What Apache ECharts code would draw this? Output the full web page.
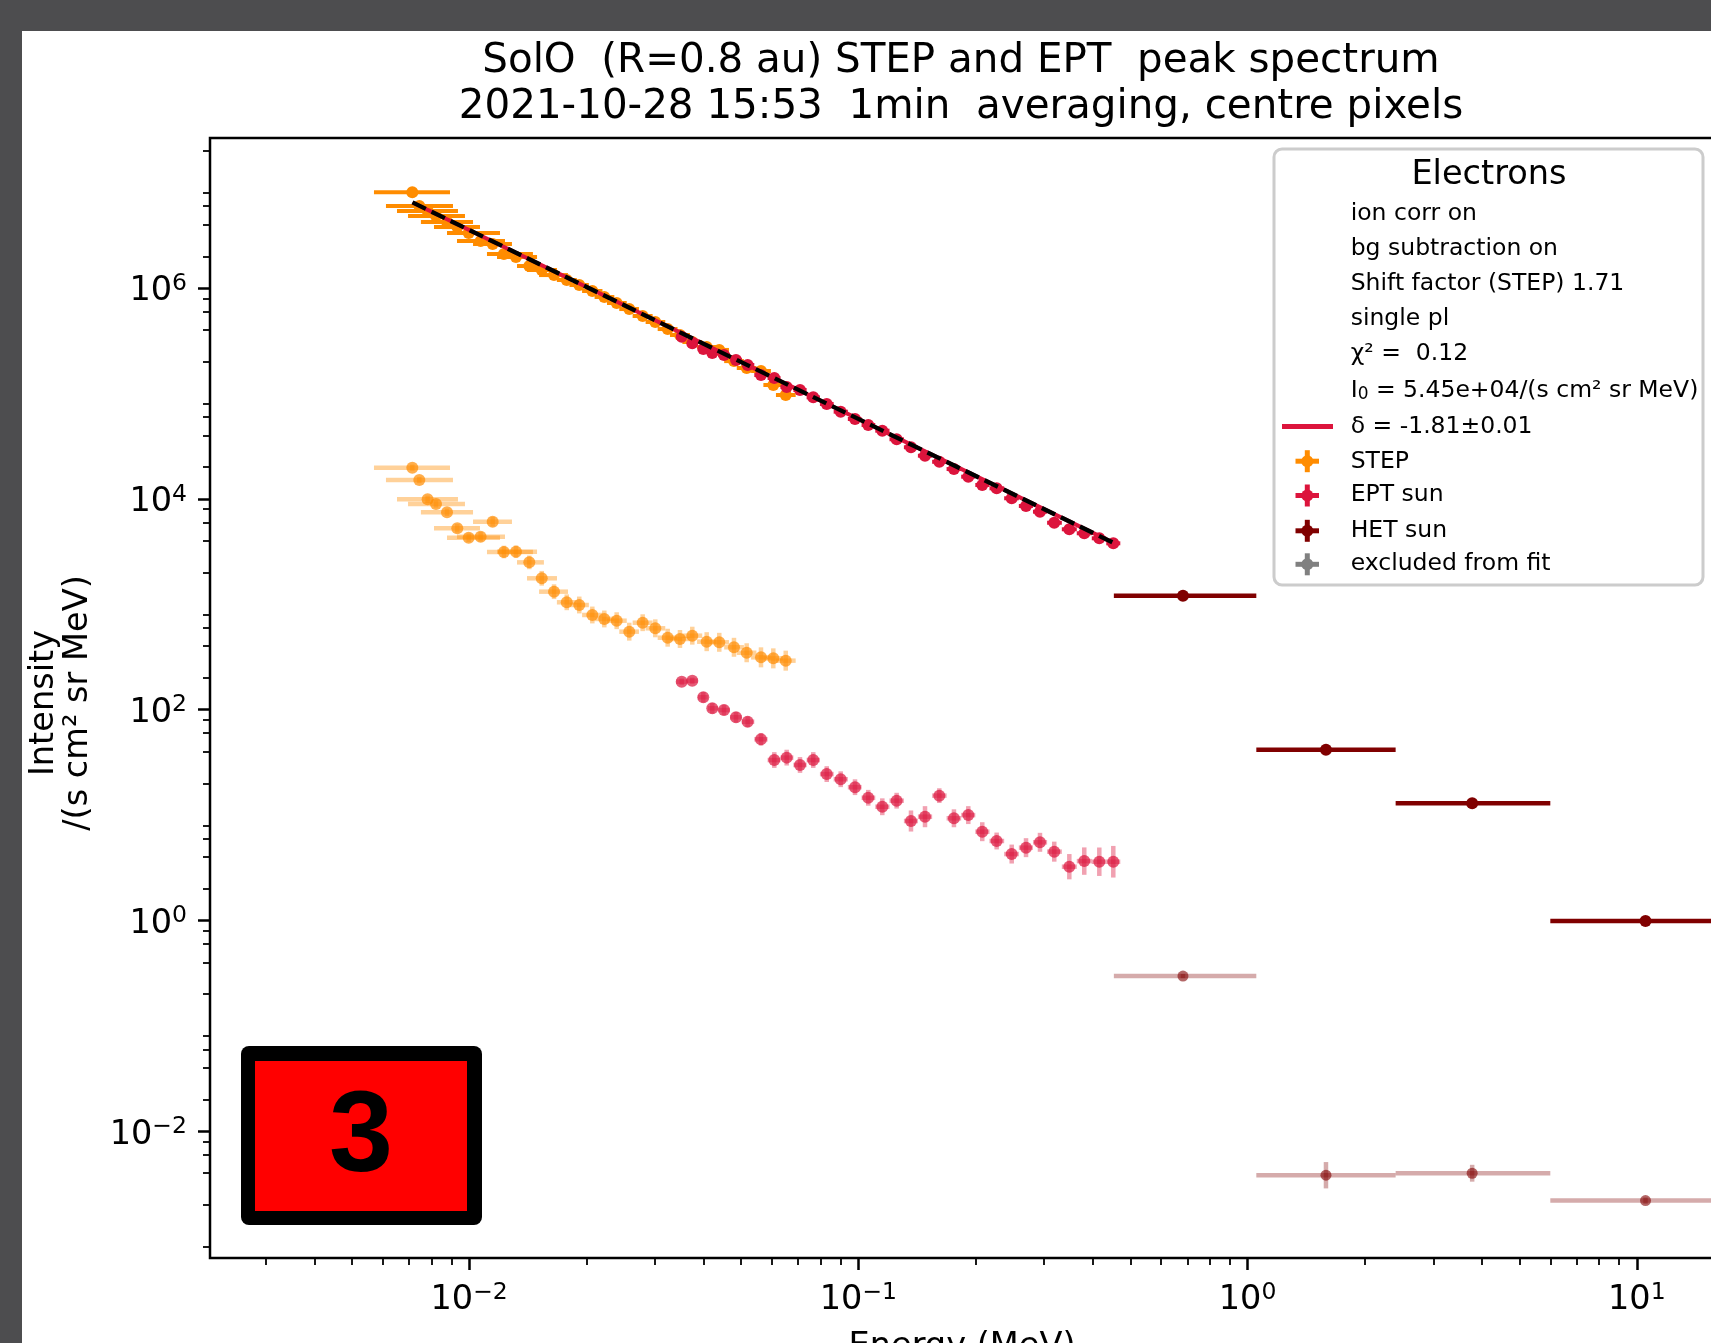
<!DOCTYPE html>
<html><head><meta charset="utf-8">
<script src="https://cdn.jsdelivr.net/npm/echarts@6/dist/echarts.min.js"></script>
<style>html,body{margin:0;padding:0;overflow:hidden;background:#4d4d4f;}#c{width:1720px;height:1343px;}</style>
</head><body><div id="c"></div>
<script>
// ---------------- data ----------------
const stepE   = [0.007143,0.007444,0.007820,0.008218,0.008770,0.009320,0.009970,0.01070,0.01149,0.01228,0.01319,0.01427,0.01536,0.01652,0.01781,0.01918,0.02072,0.02224,0.02393,0.02578,0.02791,0.03007,0.03236,0.03480,0.03743,0.04076,0.04391,0.04790,0.05164,0.05620,0.06045,0.06506];
const stepElo = [0.005693,0.006112,0.006524,0.006964,0.007516,0.008121,0.008770,0.009304,0.01023,0.01111,0.01179,0.01327,0.01408,0.01512,0.0168,0.0181,0.0195,0.0210,0.0226,0.0243,0.0263,0.0284,0.0305,0.0328,0.0353,0.0385,0.0414,0.0452,0.0487,0.0530,0.0570,0.0614];
const stepEhi = [0.008927,0.009086,0.009359,0.009754,0.01023,0.01066,0.01200,0.01236,0.01288,0.01458,0.01494,0.01556,0.01681,0.01794,0.0189,0.0203,0.0220,0.0236,0.0254,0.0273,0.0296,0.0319,0.0343,0.0369,0.0397,0.0432,0.0465,0.0508,0.0547,0.0596,0.0641,0.0690];
const stepI   = [8.11e6,6.01e6,5.39e6,4.83e6,4.24e6,3.80e6,3.33e6,2.80e6,2.62e6,2.11e6,1.97e6,1.62e6,1.485e6,1.33e6,1.194e6,1.07e6,9.39e5,8.23e5,7.22e5,6.33e5,5.44e5,4.77e5,4.09e5,3.59e5,3.08e5,2.76e5,2.59e5,2.03e5,1.746e5,1.635e5,1.204e5,9.68e4];
const stepBgI = [19770,15110,9910,8950,7460,5260,4285,4380,6080,3135,3155,2500,1765,1318,1045,985,792,726,699,550,669,592,482,469,504,442,436,391,347,314,307,292];
const stepBgErrDex = [0.03,0.03,0.035,0.035,0.035,0.04,0.04,0.045,0.045,0.06,0.06,0.065,0.07,0.07,0.075,0.08,0.08,0.08,0.08,0.085,0.08,0.085,0.085,0.085,0.085,0.09,0.09,0.09,0.09,0.095,0.095,0.095];

const eptE     = [0.03516,0.03743,0.03995,0.04213,0.04515,0.04848,0.05194,0.05620,0.06080,0.06543,0.07079,0.07656,0.08292,0.09006,0.09802,0.1060,0.1152,0.1254,0.1365,0.1483,0.1614,0.1760,0.1916,0.2081,0.2266,0.2477,0.2696,0.2928,0.3186,0.3483,0.3805,0.4159,0.4518];
const eptEdges = [0.03404,0.03627,0.03867,0.04102,0.04361,0.04678,0.05017,0.05402,0.05844,0.06307,0.06808,0.07362,0.07965,0.08639,0.09395,0.1019,0.1105,0.1202,0.1309,0.1422,0.1547,0.1685,0.1837,0.1997,0.2172,0.2369,0.2584,0.2809,0.3054,0.3332,0.3640,0.3978,0.4334,0.4709];
const eptI     = [3.46e5,2.99e5,2.645e5,2.42e5,2.32e5,2.08e5,1.864e5,1.498e5,1.403e5,1.153e5,1.08e5,9.20e4,7.95e4,6.72e4,5.73e4,5.03e4,4.44e4,3.68e4,3.09e4,2.57e4,2.25e4,1.92e4,1.625e4,1.356e4,1.26e4,1.014e4,8.57e3,7.56e3,5.94e3,5.15e3,4.72e3,4.23e3,3.79e3];
const eptBgI   = [184.5,188.4,131.2,103.1,99.3,84.7,76.9,52.4,33.3,35.1,29.9,33.3,24.5,21.9,18.4,14.6,12.0,13.7,8.79,9.66,15.3,9.33,10.0,6.96,5.68,4.27,4.91,5.52,4.50,3.24,3.66,3.61,3.61];
const eptBgErrDex = [0.03,0.03,0.05,0.05,0.05,0.05,0.05,0.06,0.075,0.075,0.075,0.075,0.075,0.075,0.075,0.075,0.08,0.075,0.10,0.10,0.07,0.085,0.085,0.09,0.08,0.09,0.09,0.09,0.095,0.12,0.13,0.135,0.15];

const hetE   = [0.6823,1.590,3.776,10.53];
const hetElo = [0.4533,1.053,2.401,5.995];
const hetEhi = [1.053,2.401,5.995,18.83];
const hetI   = [1205,41.7,12.97,0.989];
const hetBgI = [0.297,0.00383,0.00400,0.00220];
const hetBgErrDex = [0.02,0.125,0.08,0.03];

const fitE = [0.00715,0.451];
const fitI = [6.5e6,3.85e3];

const xTickValues = [0.01,0.1,1,10];
const xTickExp    = ['−2','−1','0','1'];
const yTickValues = [0.01,1,100,1e4,1e6];
const yTickExp    = ['−2','0','2','4','6'];

const legendLines = ['ion corr on','bg subtraction on','Shift factor (STEP) 1.71','single pl','χ² =  0.12','{n|I}{sub|0}{n| = 5.45e+04/(s cm² sr MeV)}','δ = -1.81±0.01','STEP','EPT sun','HET sun','excluded from fit'];

// ---------------- setup ----------------
const F = 'DejaVu Sans';
const XMIN = 0.002158, XMAX = 15.79, YMIN = 6.279e-4, YMAX = 2.656e7;
const C_STEP = '#ff8c00', C_EPT = '#dc143c', C_HET = '#800000', C_EXC = '#808080';
const DARK = '#4d4d4f';

const xMinor = [], yMinor = [];
[-3,-2,-1,0].forEach(k => { for (let m = 2; m <= 9; m++) { const v = m * Math.pow(10, k); if (v > XMIN && v < XMAX) xMinor.push(v); } });
for (let k = -4; k <= 7; k++) [2,4,6,8].forEach(m => { const v = m * Math.pow(10, k); if (v > YMIN && v < YMAX) yMinor.push(v); });

function rows(E, I, lo, hi, dex) {
  return E.map((e, k) => {
    const d = dex ? dex[k] : 0;
    return [e, I[k], lo[k], hi[k], I[k] / Math.pow(10, d), I[k] * Math.pow(10, d)];
  });
}
const stepMain = rows(stepE, stepI, stepElo, stepEhi, null);
const stepBg   = rows(stepE, stepBgI, stepElo, stepEhi, stepBgErrDex);
const eptLo = eptE.map((e, k) => eptEdges[k]), eptHi = eptE.map((e, k) => eptEdges[k + 1]);
const eptMain = rows(eptE, eptI, eptLo, eptHi, null);
const eptBg   = rows(eptE, eptBgI, eptLo, eptHi, eptBgErrDex);
const hetMain = rows(hetE, hetI, hetElo, hetEhi, null);
const hetBg   = rows(hetE, hetBgI, hetElo, hetEhi, hetBgErrDex);

function errSeries(name, data, color, width, opacity) {
  return {
    type: 'custom', name, data, clip: true, silent: true,
    dimensions: ['e','i','elo','ehi','ilo','ihi'], encode: {x: 0, y: 1},
    renderItem: function (params, api) {
      const e = api.value(0), i = api.value(1), elo = api.value(2), ehi = api.value(3), ilo = api.value(4), ihi = api.value(5);
      const a = api.coord([elo, i]), b = api.coord([ehi, i]), c = api.coord([e, ilo]), d = api.coord([e, ihi]);
      const st = {stroke: color, lineWidth: width, opacity: opacity, lineCap: 'butt'};
      const ch = [{type: 'line', shape: {x1: a[0], y1: a[1], x2: b[0], y2: b[1]}, style: st}];
      if (Math.abs(c[1] - d[1]) > 0.5) ch.push({type: 'line', shape: {x1: c[0], y1: c[1], x2: d[0], y2: d[1]}, style: st});
      return {type: 'group', children: ch};
    }
  };
}
function dots(name, data, color, opacity, size) {
  return {type: 'scatter', name, data: data.map(r => [r[0], r[1]]), symbol: 'circle', symbolSize: size,
    itemStyle: {color: color, opacity: opacity}, silent: true, clip: true};
}

const rich = {
  b: {fontFamily: F, fontSize: 33.5, color: '#000', lineHeight: 40},
  s: {fontFamily: F, fontSize: 23.5, color: '#000', lineHeight: 28, verticalAlign: 'top'}
};
function fmt(vals, exps) {
  return function (v) {
    const i = vals.findIndex(t => Math.abs(Math.log10(t) - Math.log10(v)) < 1e-6);
    return i < 0 ? '' : '{b|10}{s|' + exps[i] + '}';
  };
}
const tickStyle = {color: '#000', width: 2.5};
const minorStyle = {color: '#000', width: 1.8};

// ---------------- graphics: frame, legend, badge ----------------
const G = [];
G.push({type: 'rect', z: 100, shape: {x: 0, y: 0, width: 1720, height: 31}, style: {fill: DARK}});
G.push({type: 'rect', z: 100, shape: {x: 0, y: 0, width: 22, height: 1343}, style: {fill: DARK}});
// legend box
G.push({type: 'rect', z: 100, shape: {x: 1274, y: 149, width: 429, height: 436, r: 8}, style: {fill: 'rgba(255,255,255,0.8)', stroke: '#cccccc', lineWidth: 3}});
G.push({type: 'text', z: 101, x: 1489, y: 175.5, style: {text: 'Electrons', fontFamily: F, fontSize: 33.6, fill: '#000', align: 'center', verticalAlign: 'middle'}});
const rowY = [214,249,284,318.5,354,390.8,426.8,461.9,495.1,531.2,564];
const legRich = {n: {fontFamily: F, fontSize: 23.5, fill: '#000'}, sub: {fontFamily: F, fontSize: 17, fill: '#000', verticalAlign: 'bottom', lineHeight: 20}};
legendLines.forEach((t, k) => {
  G.push({type: 'text', z: 101, x: 1350.7, y: rowY[k], style: {text: t, fontFamily: F, fontSize: 23.5, fill: '#000', align: 'left', verticalAlign: 'middle', rich: legRich}});
});
G.push({type: 'line', z: 101, shape: {x1: 1282, y1: 426.5, x2: 1333, y2: 426.5}, style: {stroke: C_EPT, lineWidth: 5}});
[[C_STEP, 461.2], [C_EPT, 495.5], [C_HET, 530.8], [C_EXC, 564.3]].forEach(([col, y]) => {
  G.push({type: 'line', z: 101, shape: {x1: 1295.5, y1: y, x2: 1319, y2: y}, style: {stroke: col, lineWidth: 5}});
  G.push({type: 'line', z: 101, shape: {x1: 1307.3, y1: y - 11, x2: 1307.3, y2: y + 11}, style: {stroke: col, lineWidth: 5}});
  G.push({type: 'circle', z: 101, shape: {cx: 1307.3, cy: y, r: 6}, style: {fill: col}});
});
// red badge "3"
G.push({type: 'rect', z: 100, shape: {x: 241, y: 1046, width: 241, height: 179, r: 8}, style: {fill: '#000'}});
G.push({type: 'rect', z: 101, shape: {x: 255, y: 1061, width: 212, height: 150}, style: {fill: '#ff0000'}});
G.push({type: 'text', z: 102, x: 361, y: 1139, style: {text: '3', fontFamily: 'Liberation Sans', fontWeight: 'bold', fontSize: 115, fill: '#000', align: 'center', verticalAlign: 'middle'}});

// ---------------- chart ----------------
const chart = echarts.init(document.getElementById('c'), null, {renderer: 'canvas'});
chart.setOption({
  animation: false,
  backgroundColor: '#ffffff',
  title: {
    text: 'SolO  (R=0.8 au) STEP and EPT  peak spectrum\n2021-10-28 15:53  1min  averaging, centre pixels',
    left: 961, top: 38.5, textAlign: 'center', padding: 0,
    textStyle: {fontFamily: F, fontSize: 40.4, fontWeight: 'normal', lineHeight: 46, color: '#000'}
  },
  grid: {left: 210, top: 138, width: 1504, height: 1120, show: true, borderColor: '#000', borderWidth: 2.5,
    backgroundColor: 'transparent', containLabel: false, outerBoundsMode: 'none'},
  xAxis: [
    {type: 'log', logBase: 10, min: XMIN, max: XMAX, position: 'bottom',
      axisLine: {show: false}, splitLine: {show: false},
      axisTick: {show: true, length: 12, lineStyle: tickStyle, customValues: xTickValues},
      axisLabel: {show: true, customValues: xTickValues, formatter: fmt(xTickValues, xTickExp), margin: 22.5, rich: rich},
      name: 'Energy (MeV)', nameLocation: 'middle', nameGap: 72,
      nameTextStyle: {fontFamily: F, fontSize: 33.6, color: '#000'}},
    {type: 'log', logBase: 10, min: XMIN, max: XMAX, position: 'bottom', offset: 0,
      axisLine: {show: false}, splitLine: {show: false}, axisLabel: {show: false},
      axisTick: {show: true, length: 7, lineStyle: minorStyle, customValues: xMinor}}
  ],
  yAxis: [
    {type: 'log', logBase: 10, min: YMIN, max: YMAX, position: 'left',
      axisLine: {show: false}, splitLine: {show: false},
      axisTick: {show: true, length: 12, lineStyle: tickStyle, customValues: yTickValues},
      axisLabel: {show: true, customValues: yTickValues, formatter: fmt(yTickValues, yTickExp), margin: 23, padding: [7, 0, 0, 0], rich: rich},
      name: 'Intensity\n/(s cm² sr MeV)', nameLocation: 'middle', nameGap: 114.5, nameRotate: 90,
      nameTextStyle: {fontFamily: F, fontSize: 33.6, color: '#000', lineHeight: 34, padding: [0, 10, 0, 0]}},
    {type: 'log', logBase: 10, min: YMIN, max: YMAX, position: 'left', offset: 0,
      axisLine: {show: false}, splitLine: {show: false}, axisLabel: {show: false},
      axisTick: {show: true, length: 7, lineStyle: minorStyle, customValues: yMinor}}
  ],
  series: [
    errSeries('STEP (bg)', stepBg, C_STEP, 4.5, 0.4),
    dots('STEP (bg)', stepBg, C_STEP, 0.7, 12),
    errSeries('EPT sun (bg)', eptBg, C_EPT, 4.5, 0.4),
    dots('EPT sun (bg)', eptBg, C_EPT, 0.7, 12),
    errSeries('HET sun (bg)', hetBg, C_HET, 4.5, 0.33),
    dots('HET sun (bg)', hetBg, C_HET, 0.6, 11),
    errSeries('STEP', stepMain, C_STEP, 4, 1),
    dots('STEP', stepMain, C_STEP, 1, 12),
    errSeries('EPT sun', eptMain, C_EPT, 4, 1),
    dots('EPT sun', eptMain, C_EPT, 1, 12),
    errSeries('HET sun', hetMain, C_HET, 4.5, 1),
    dots('HET sun', hetMain, C_HET, 1, 12),
    {type: 'line', name: 'δ = -1.81±0.01', data: fitE.map((e, k) => [e, fitI[k]]), symbol: 'none', silent: true,
      lineStyle: {color: C_EPT, width: 4}},
    {type: 'line', name: 'fit (dashed)', data: fitE.map((e, k) => [e, fitI[k]]), symbol: 'none', silent: true,
      lineStyle: {color: '#000', width: 4.3, type: [14.8, 6.4]}}
  ],
  graphic: G
});
</script></body></html>
